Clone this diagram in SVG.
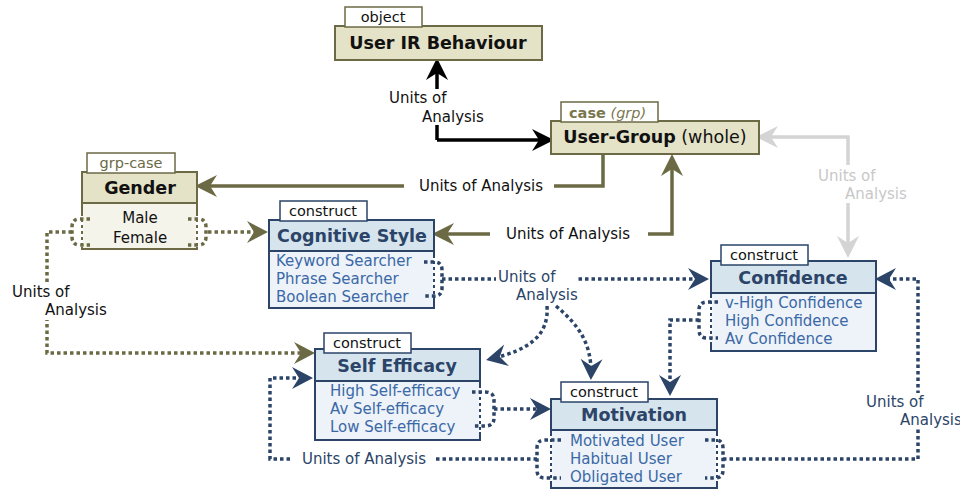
<svg xmlns="http://www.w3.org/2000/svg" width="960" height="493" viewBox="0 0 960 493">
<style>
text{font-family:"DejaVu Sans","Verdana",sans-serif}
.tab{fill:#fff;stroke-width:1.5}
.tabt{font-size:14.5px;fill:#111;text-anchor:middle}
.title{font-size:17.5px;font-weight:bold;text-anchor:middle}
.item{font-size:15px;fill:#3b68a6}
.lbl{font-size:15px;fill:#111}
.olv{stroke:#6b6a45}
.blu{stroke:#2b4468}
.hdrO{fill:#e4e2c7;stroke:#6b6a45;stroke-width:2}
.bodyO{fill:#f5f4ea;stroke:#6b6a45;stroke-width:2}
.hdrB{fill:#d6e4ee;stroke:#2b4468;stroke-width:2}
.bodyB{fill:#edf3f8;stroke:#2b4468;stroke-width:2}
.solid{fill:none;stroke-width:3.5}
.dot{fill:none;stroke-width:3.5;stroke-dasharray:3.5 3}
.brk{fill:none;stroke-width:3.5;stroke-dasharray:3.5 3}
.bg{fill:#fff}
</style>
<defs>
<marker id="aK" markerUnits="userSpaceOnUse" viewBox="-24 -12 26 24" markerWidth="26" markerHeight="24" refX="-5" refY="0" orient="auto-start-reverse"><path d="M0,0 L-22,-11 L-15,0 L-22,11 Z" fill="#000"/></marker>
<marker id="aO" markerUnits="userSpaceOnUse" viewBox="-24 -12 26 24" markerWidth="26" markerHeight="24" refX="-5" refY="0" orient="auto-start-reverse"><path d="M0,0 L-22,-11 L-15,0 L-22,11 Z" fill="#6b6a45"/></marker>
<marker id="aG" markerUnits="userSpaceOnUse" viewBox="-24 -12 26 24" markerWidth="26" markerHeight="24" refX="-5" refY="0" orient="auto-start-reverse"><path d="M0,0 L-22,-11 L-15,0 L-22,11 Z" fill="#d4d4d4"/></marker>
<marker id="aB" markerUnits="userSpaceOnUse" viewBox="-24 -12 26 24" markerWidth="26" markerHeight="24" refX="-4" refY="0" orient="auto"><path d="M0,0 L-21,-11 L-14,0 L-21,11 Z" fill="#2b4468"/></marker>
<marker id="aOd" markerUnits="userSpaceOnUse" viewBox="-24 -12 26 24" markerWidth="26" markerHeight="24" refX="-4" refY="0" orient="auto"><path d="M0,0 L-21,-11 L-14,0 L-21,11 Z" fill="#6b6a45"/></marker>
</defs>
<rect width="960" height="493" fill="#fff"/>

<g id="connectors">
  <path class="solid" stroke="#000" d="M437,140 V63" marker-end="url(#aK)"/>
  <path class="solid" stroke="#000" d="M437,140 H549" marker-end="url(#aK)"/>
  <rect class="bg" x="430" y="89" width="14" height="36"/>
  <text class="lbl"><tspan x="389" y="103">Units of</tspan><tspan x="422" y="122">Analysis</tspan></text>
  <path class="solid olv" d="M603,154 V186 H200" marker-end="url(#aO)"/>
  <rect class="bg" x="404" y="178" width="150" height="16"/>
  <text class="lbl" x="481" y="191" text-anchor="middle">Units of Analysis</text>
  <path class="solid olv" d="M437,234 H672 V159" marker-start="url(#aO)" marker-end="url(#aO)"/>
  <rect class="bg" x="490" y="226" width="158" height="16"/>
  <text class="lbl" x="568" y="239" text-anchor="middle">Units of Analysis</text>
  <path class="solid" stroke="#d4d4d4" d="M761,137 H848 V253" marker-start="url(#aG)" marker-end="url(#aG)"/>
  <rect class="bg" x="840" y="165" width="16" height="38"/>
  <text class="lbl" style="fill:#c8c8c8"><tspan x="818" y="181">Units of</tspan><tspan x="845" y="199">Analysis</tspan></text>

  <path class="dot olv" d="M208,232 H264" marker-end="url(#aOd)"/>
  <path class="dot olv" d="M72,232 H47 V353 H311" marker-end="url(#aOd)"/>
  <rect class="bg" x="40" y="284" width="14" height="36"/>
  <text class="lbl"><tspan x="12" y="297">Units of</tspan><tspan x="45" y="315">Analysis</tspan></text>

  <path class="dot blu" d="M442,279 H705" marker-end="url(#aB)"/>
  <path class="dot blu" d="M547,306 C549,335 530,350 490,359" marker-end="url(#aB)"/>
  <path class="dot blu" d="M556,306 C580,326 592,345 591,376" marker-end="url(#aB)"/>
  <rect class="bg" x="496" y="270" width="82" height="34"/>
  <text class="lbl" style="fill:#2b4468"><tspan x="498" y="282">Units of</tspan><tspan x="516" y="300">Analysis</tspan></text>
  <path class="dot blu" d="M699,320 H670 V392" marker-end="url(#aB)"/>
  <path class="dot blu" d="M494,409 H547" marker-end="url(#aB)"/>
  <path class="dot blu" d="M537,459 H270 V378 H309" marker-end="url(#aB)"/>
  <rect class="bg" x="293" y="451" width="142" height="16"/>
  <text class="lbl" x="364" y="464" text-anchor="middle" style="fill:#2b4468">Units of Analysis</text>
  <path class="dot blu" d="M723,459 H918 V279 H879" marker-end="url(#aB)"/>
  <rect class="bg" x="911" y="393" width="14" height="36"/>
  <text class="lbl" style="fill:#2b4468"><tspan x="866" y="407">Units of</tspan><tspan x="900" y="425">Analysis</tspan></text>
</g>

<g id="user-ir-behaviour">
  <rect class="hdrO" x="335" y="26" width="207" height="34"/>
  <rect class="tab olv" x="345" y="7" width="77" height="20"/>
  <text class="tabt" x="383" y="22">object</text>
  <text class="title" x="438" y="49" fill="#111">User IR Behaviour</text>
</g>

<g id="user-group">
  <rect class="hdrO" x="551" y="121" width="208" height="33"/>
  <rect class="tab olv" x="561" y="102" width="97" height="20"/>
  <text x="569" y="118" font-size="14.5" fill="#7a7850"><tspan font-weight="bold">case</tspan> <tspan font-style="italic">(grp)</tspan></text>
  <text x="655" y="143" font-size="17.5" text-anchor="middle" fill="#111"><tspan font-weight="bold">User-Group</tspan> (whole)</text>
</g>

<g id="gender">
  <rect class="bodyO" x="82" y="203" width="115" height="46"/>
  <rect class="hdrO" x="82" y="172" width="115" height="31"/>
  <rect class="tab olv" x="87" y="153" width="88" height="20"/>
  <text class="tabt" x="131" y="168" style="fill:#6b6a45">grp-case</text>
  <text class="title" x="140" y="194" fill="#111">Gender</text>
  <text x="140" y="223" font-size="15" text-anchor="middle" fill="#111">Male</text>
  <text x="140" y="243" font-size="15" text-anchor="middle" fill="#111">Female</text>
  <path d="M82,216 V247 M197,216 V247" stroke="#fff" stroke-width="2.5" stroke-dasharray="3 3"/>
  <path class="brk olv" d="M90,219 H80 Q72,219 72,227 V237 Q72,245 80,245 H90"/>
  <path class="brk olv" d="M188,219 H198 Q206,219 206,227 V237 Q206,245 198,245 H188"/>
</g>

<g id="cognitive-style">
  <rect class="bodyB" x="269" y="251" width="165" height="57"/>
  <rect class="hdrB" x="269" y="220" width="165" height="31"/>
  <rect class="tab blu" x="280" y="201" width="87" height="20"/>
  <text class="tabt" x="323" y="216">construct</text>
  <text class="title" x="352" y="242" fill="#2b4468">Cognitive Style</text>
  <text class="item" x="276" y="266">Keyword Searcher</text>
  <text class="item" x="276" y="284">Phrase Searcher</text>
  <text class="item" x="276" y="302">Boolean Searcher</text>
  <path d="M434,258 V300" stroke="#fff" stroke-width="2.5" stroke-dasharray="3 3"/>
  <path class="brk blu" d="M424,262 H434 Q442,262 442,270 V288 Q442,296 434,296 H424"/>
</g>

<g id="confidence">
  <rect class="bodyB" x="711" y="293" width="165" height="58"/>
  <rect class="hdrB" x="711" y="261" width="165" height="32"/>
  <rect class="tab blu" x="721" y="245" width="87" height="20"/>
  <text class="tabt" x="764" y="260">construct</text>
  <text class="title" x="793" y="284" fill="#2b4468">Confidence</text>
  <text class="item" x="725" y="308">v-High Confidence</text>
  <text class="item" x="725" y="326">High Confidence</text>
  <text class="item" x="725" y="344">Av Confidence</text>
  <path d="M711,298 V342" stroke="#fff" stroke-width="2.5" stroke-dasharray="3 3"/>
  <path class="brk blu" d="M718,302 H707 Q699,302 699,310 V330 Q699,338 707,338 H718"/>
</g>

<g id="self-efficacy">
  <rect class="bodyB" x="315" y="381" width="165" height="59"/>
  <rect class="hdrB" x="315" y="349" width="165" height="32"/>
  <rect class="tab blu" x="324" y="333" width="87" height="20"/>
  <text class="tabt" x="367" y="348">construct</text>
  <text class="title" x="397" y="372" fill="#2b4468">Self Efficacy</text>
  <text class="item" x="330" y="396">High Self-efficacy</text>
  <text class="item" x="330" y="414">Av Self-efficacy</text>
  <text class="item" x="330" y="432">Low Self-efficacy</text>
  <path d="M480,388 V432" stroke="#fff" stroke-width="2.5" stroke-dasharray="3 3"/>
  <path class="brk blu" d="M472,392 H485 Q494,392 494,400 V418 Q494,426 485,426 H472"/>
</g>

<g id="motivation">
  <rect class="bodyB" x="551" y="430" width="166" height="58"/>
  <rect class="hdrB" x="551" y="399" width="166" height="31"/>
  <rect class="tab blu" x="561" y="382" width="87" height="20"/>
  <text class="tabt" x="604" y="397">construct</text>
  <text class="title" x="634" y="421" fill="#2b4468">Motivation</text>
  <text class="item" x="570" y="446">Motivated User</text>
  <text class="item" x="570" y="464">Habitual User</text>
  <text class="item" x="570" y="482">Obligated User</text>
  <path d="M551,436 V482 M717,436 V482" stroke="#fff" stroke-width="2.5" stroke-dasharray="3 3"/>
  <path class="brk blu" d="M561,440 H545 Q537,440 537,448 V470 Q537,478 545,478 H561"/>
  <path class="brk blu" d="M705,440 H715 Q723,440 723,448 V470 Q723,478 715,478 H705"/>
</g>
</svg>
